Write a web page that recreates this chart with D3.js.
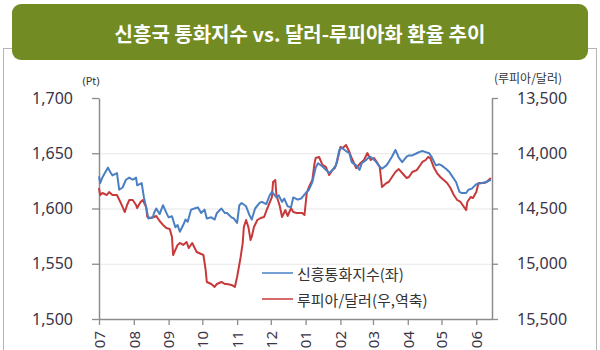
<!DOCTYPE html>
<html>
<head>
<meta charset="utf-8">
<script src="https://cdn.jsdelivr.net/npm/d3@7"></script>
<style>
  html, body { margin: 0; padding: 0; background: #fff; }
  svg { display: block; }
  text { font-family: "Noto Sans", "Noto Sans CJK KR", sans-serif; }
  .kr { font-family: "Noto Sans CJK KR", "Noto Sans", sans-serif; }
</style>
</head>
<body>
<svg id="chart" width="600" height="350"></svg>
<script>
// Month tick labels (Jul 2015 - Jun 2016)
const months = ["07", "08", "09", "10", "11", "12", "01", "02", "03", "04", "05", "06"];
const leftTicks = [1500, 1550, 1600, 1650, 1700];
const rightTicks = [13500, 14000, 14500, 15000, 15500];
const gridTicks = [1550, 1600, 1650];

// EM currency index (left axis, Pt)
const emDates = ["2015-07-01","2015-07-02","2015-07-04","2015-07-09","2015-07-11","2015-07-13","2015-07-17","2015-07-19","2015-07-22","2015-07-25","2015-07-28","2015-07-31","2015-08-03","2015-08-04","2015-08-08","2015-08-10","2015-08-12","2015-08-14","2015-08-18","2015-08-19","2015-08-21","2015-08-24","2015-08-27","2015-08-30","2015-09-01","2015-09-04","2015-09-07","2015-09-09","2015-09-11","2015-09-14","2015-09-16","2015-09-18","2015-09-21","2015-09-24","2015-09-27","2015-09-30","2015-10-03","2015-10-05","2015-10-09","2015-10-12","2015-10-14","2015-10-18","2015-10-21","2015-10-23","2015-10-27","2015-10-29","2015-11-01","2015-11-03","2015-11-05","2015-11-09","2015-11-12","2015-11-14","2015-11-17","2015-11-21","2015-11-23","2015-11-27","2015-11-30","2015-12-02","2015-12-06","2015-12-08","2015-12-11","2015-12-13","2015-12-16","2015-12-19","2015-12-21","2015-12-25","2015-12-28","2016-01-02","2016-01-04","2016-01-07","2016-01-10","2016-01-12","2016-01-16","2016-01-19","2016-01-22","2016-01-25","2016-01-28","2016-01-31","2016-02-02","2016-02-06","2016-02-09","2016-02-11","2016-02-15","2016-02-18","2016-02-20","2016-02-24","2016-02-27","2016-02-29","2016-03-04","2016-03-06","2016-03-09","2016-03-13","2016-03-15","2016-03-18","2016-03-21","2016-03-24","2016-03-27","2016-03-31","2016-04-02","2016-04-05","2016-04-09","2016-04-11","2016-04-14","2016-04-17","2016-04-20","2016-04-22","2016-04-26","2016-04-29","2016-05-01","2016-05-05","2016-05-08","2016-05-10","2016-05-14","2016-05-17","2016-05-19","2016-05-23","2016-05-25","2016-05-28","2016-05-30","2016-06-01","2016-06-06","2016-06-10","2016-06-14"];
const emValues = [1629,1623,1628,1637,1633,1630,1632,1617,1619,1626,1628,1626,1628,1621,1623,1610,1601,1591,1592,1596,1600,1595,1603,1596,1592,1593,1583,1585,1579,1585,1590,1588,1599,1600,1601,1596,1599,1591,1592,1590,1596,1600,1596,1596,1592,1591,1587,1603,1605,1602,1594,1590,1600,1605,1606,1604,1612,1615,1610,1612,1606,1609,1602,1601,1610,1608,1609,1615,1617,1624,1637,1641,1638,1635,1632,1635,1639,1653,1655,1652,1650,1642,1639,1635,1641,1644,1647,1646,1642,1639,1636,1639,1642,1647,1653,1646,1642,1647,1648,1648,1650,1651,1652,1651,1650,1647,1639,1640,1639,1636,1633,1630,1624,1615,1614,1614,1617,1618,1620,1622,1623,1624,1626];

// Rupiah per dollar (right axis, inverted)
const idrDates = ["2015-07-01","2015-07-02","2015-07-04","2015-07-08","2015-07-10","2015-07-13","2015-07-17","2015-07-20","2015-07-22","2015-07-24","2015-07-26","2015-07-28","2015-07-31","2015-08-03","2015-08-04","2015-08-07","2015-08-09","2015-08-12","2015-08-13","2015-08-16","2015-08-19","2015-08-21","2015-08-24","2015-08-27","2015-08-30","2015-09-02","2015-09-04","2015-09-05","2015-09-09","2015-09-11","2015-09-14","2015-09-17","2015-09-19","2015-09-22","2015-09-26","2015-09-28","2015-10-02","2015-10-04","2015-10-05","2015-10-09","2015-10-12","2015-10-14","2015-10-18","2015-10-21","2015-10-23","2015-10-27","2015-10-30","2015-11-01","2015-11-04","2015-11-06","2015-11-07","2015-11-09","2015-11-11","2015-11-13","2015-11-14","2015-11-16","2015-11-19","2015-11-22","2015-11-25","2015-11-28","2015-12-02","2015-12-03","2015-12-05","2015-12-06","2015-12-09","2015-12-11","2015-12-14","2015-12-16","2015-12-19","2015-12-21","2015-12-24","2015-12-27","2015-12-29","2015-12-31","2016-01-02","2016-01-04","2016-01-07","2016-01-09","2016-01-10","2016-01-13","2016-01-16","2016-01-19","2016-01-22","2016-01-25","2016-01-27","2016-01-29","2016-02-01","2016-02-03","2016-02-06","2016-02-09","2016-02-11","2016-02-13","2016-02-15","2016-02-19","2016-02-22","2016-02-25","2016-02-28","2016-03-02","2016-03-05","2016-03-07","2016-03-09","2016-03-13","2016-03-15","2016-03-18","2016-03-21","2016-03-24","2016-03-27","2016-03-31","2016-04-02","2016-04-05","2016-04-09","2016-04-11","2016-04-14","2016-04-17","2016-04-19","2016-04-21","2016-04-24","2016-04-27","2016-04-30","2016-05-03","2016-05-06","2016-05-09","2016-05-12","2016-05-15","2016-05-18","2016-05-21","2016-05-23","2016-05-24","2016-05-27","2016-05-29","2016-06-01","2016-06-03","2016-06-08","2016-06-10","2016-06-14"];
const idrValues = [14315,14378,14360,14378,14351,14378,14378,14441,14486,14532,14468,14423,14423,14468,14496,14441,14423,14486,14577,14586,14577,14568,14613,14649,14677,14686,14758,14921,14830,14812,14830,14803,14858,14812,14894,14903,14921,15057,15165,15183,15210,15183,15165,15183,15183,15192,15210,15120,14948,14812,14667,14604,14667,14785,14758,14667,14604,14586,14577,14496,14396,14260,14242,14378,14477,14577,14514,14568,14496,14532,14541,14541,14541,14559,14360,14305,14242,14088,14043,14034,14106,14124,14197,14152,14134,14079,13943,13953,13925,13989,14043,14088,14134,14088,14061,13998,14061,14043,14088,14124,14305,14269,14260,14215,14170,14143,14179,14224,14215,14170,14152,14124,14079,14061,14034,14043,14124,14179,14215,14242,14269,14315,14378,14423,14441,14486,14514,14441,14396,14405,14351,14269,14269,14260,14224];

const title = "신흥국 통화지수 vs. 달러-루피아화 환율 추이";
const legendLabels = ["신흥통화지수(좌)", "루피아/달러(우,역축)"];
const colors = ["#4a7fc4", "#c8393b"];

const parse = d3.timeParse("%Y-%m-%d");
const emSeries = emDates.map((d, i) => ({ date: parse(d), value: emValues[i] }));
const idrSeries = idrDates.map((d, i) => ({ date: parse(d), value: idrValues[i] }));

const svg = d3.select("#chart");

// outer frame
svg.append("rect")
  .attr("x", 3.5).attr("y", 48.5).attr("width", 593).attr("height", 320)
  .attr("fill", "none").attr("stroke", "#b5b5b5").attr("stroke-width", 1);

// title banner
svg.append("rect")
  .attr("x", 12).attr("y", 4).attr("width", 576).attr("height", 56)
  .attr("rx", 9).attr("fill", "#728b23");
svg.append("text").attr("class", "kr")
  .attr("x", 300).attr("y", 33)
  .attr("text-anchor", "middle").attr("dominant-baseline", "central")
  .attr("fill", "#fff").attr("font-size", 20).attr("font-weight", "bold")
  .text(title);

const plotLeft = 99, plotRight = 492, plotTop = 98, plotBottom = 319;

const x = d3.scaleTime()
  .domain([new Date(2015, 6, 1), new Date(2016, 5, 15)])
  .range([plotLeft, plotRight]);
const yL = d3.scaleLinear().domain([1500, 1700]).range([plotBottom, plotTop]);
const yR = d3.scaleLinear().domain([15500, 13500]).range([plotBottom, plotTop]);

// horizontal grid
svg.append("g").selectAll("line").data(gridTicks).join("line")
  .attr("x1", plotLeft).attr("x2", plotRight)
  .attr("y1", d => yL(d) + 0.5).attr("y2", d => yL(d) + 0.5)
  .attr("stroke", "#e6e6e6").attr("stroke-width", 1);

const tickColor = "#3b3447";

// left axis
const gL = svg.append("g").attr("transform", `translate(${plotLeft},0)`)
  .call(d3.axisLeft(yL).tickValues(leftTicks).tickFormat(d3.format(","))
    .tickSize(7).tickSizeOuter(0).tickPadding(19));
// right axis
const gR = svg.append("g").attr("transform", `translate(${plotRight},0)`)
  .call(d3.axisRight(yR).tickValues(rightTicks).tickFormat(d3.format(","))
    .tickSize(6).tickSizeOuter(0).tickPadding(19));

// month axis
const monthDates = months.map((m, i) => new Date(2015, 6 + i, 1));
const gX = svg.append("g").attr("transform", `translate(0,${plotBottom})`)
  .call(d3.axisBottom(x).tickValues(monthDates).tickFormat((d, i) => months[i])
    .tickSize(6).tickSizeOuter(0));
gX.selectAll("text")
  .attr("transform", "rotate(-90)")
  .attr("text-anchor", "end")
  .attr("x", -12).attr("y", 0).attr("dy", "0.35em");

[gL, gR, gX].forEach(g => {
  g.select(".domain").attr("stroke", "#8c8c8c").attr("stroke-width", 1.5);
  g.selectAll(".tick line").attr("stroke", "#8c8c8c").attr("stroke-width", 1.3);
  g.selectAll("text").attr("fill", tickColor).attr("font-size", 16)
    .attr("font-family", "'Noto Sans', sans-serif");
});
gX.selectAll("text").attr("font-size", 15);

// unit labels
svg.append("text").attr("x", 91).attr("y", 80)
  .attr("text-anchor", "middle").attr("dominant-baseline", "central")
  .attr("font-size", 11).attr("fill", "#333").text("(Pt)");
svg.append("text").attr("class", "kr").attr("x", 528).attr("y", 77)
  .attr("text-anchor", "middle").attr("dominant-baseline", "central")
  .attr("font-size", 12).attr("fill", "#333").text("(루피아/달러)");

// series lines
const lineL = d3.line().x(d => x(d.date)).y(d => yL(d.value));
const lineR = d3.line().x(d => x(d.date)).y(d => yR(d.value));

svg.append("path").datum(idrSeries)
  .attr("d", lineR).attr("fill", "none")
  .attr("stroke", colors[1]).attr("stroke-width", 2).attr("stroke-linejoin", "round");
svg.append("path").datum(emSeries)
  .attr("d", lineL).attr("fill", "none")
  .attr("stroke", colors[0]).attr("stroke-width", 2).attr("stroke-linejoin", "round");

// legend
const legend = svg.append("g");
legendLabels.forEach((label, i) => {
  const ly = 273 + i * 26;
  legend.append("line")
    .attr("x1", 262).attr("x2", 293).attr("y1", ly).attr("y2", ly)
    .attr("stroke", colors[i]).attr("stroke-width", 1.5);
  legend.append("text").attr("class", "kr")
    .attr("x", 297).attr("y", ly)
    .attr("dominant-baseline", "central")
    .attr("font-size", 15).attr("fill", "#333")
    .text(label);
});
</script>
</body>
</html>
